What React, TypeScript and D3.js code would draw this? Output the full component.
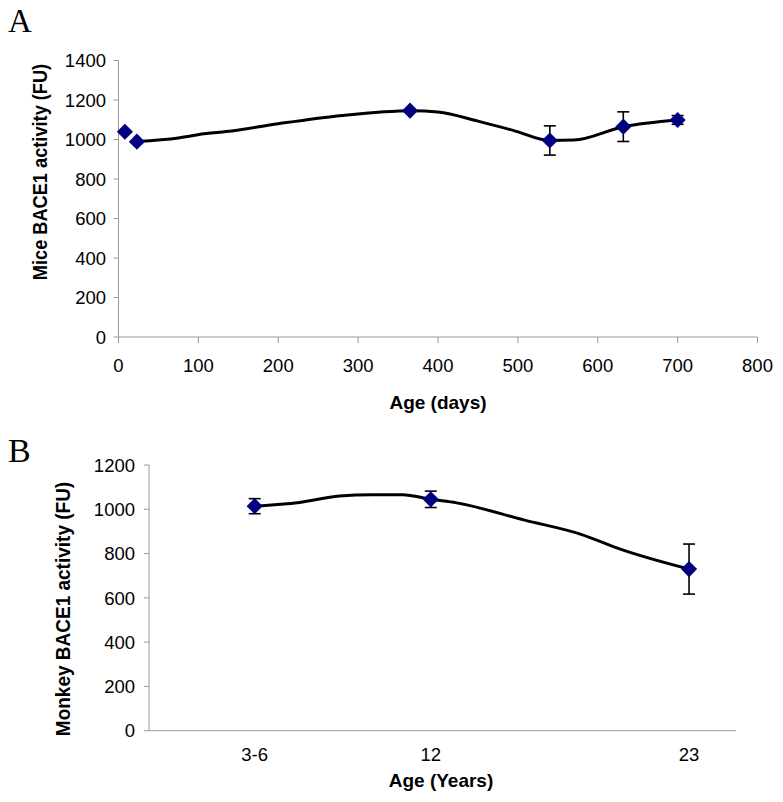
import React from "react";
import * as d3 from "d3";

// ---------- Panel A: mice ----------
const miceAgeDays = [8, 23, 365, 540, 632, 700];
const miceActivity = [1039, 989, 1146, 995, 1065, 1099];
const miceError = [0, 0, 0, 74, 75, 22];
const miceCurveAge = [23, 75, 110, 135, 200, 280, 367, 400, 450, 495, 540, 570, 632, 700];
const miceCurveValue = [990, 1008, 1030, 1040, 1080, 1122, 1146, 1139, 1093, 1045, 995, 997, 1065, 1099];
const miceXTicks = [0, 100, 200, 300, 400, 500, 600, 700, 800];
const miceYTicks = [0, 200, 400, 600, 800, 1000, 1200, 1400];

// ---------- Panel B: monkey ----------
const monkeyAgeLabels = ["3-6", "12", "23"];
const monkeyAgeYears = [4.5, 12, 23];
const monkeyActivity = [1014, 1045, 730];
const monkeyError = [34, 37, 113];
const monkeyCurveAge = [4.5, 6.4, 8.1, 9.5, 10.8, 12, 13.1, 16, 18.4, 20.1, 23];
const monkeyCurveValue = [1014, 1031, 1060, 1066, 1066, 1045, 1029, 951, 887, 819, 730];
const monkeyYTicks = [0, 200, 400, 600, 800, 1000, 1200];

const AXIS = "#9a9a9a";
const MARK = "#000080";
const SANS = "'Liberation Sans', Arial, sans-serif";
const SERIF = "'Liberation Serif', 'Times New Roman', serif";

const diamond = d3.symbol(d3.symbolSquare, 130)();

function Markers({ xs, ys, errs, x, y }: any) {
  return (
    <g>
      {xs.map((v: number, i: number) =>
        errs[i] > 0 ? (
          <g key={"e" + i} stroke="#000" strokeWidth={1.6}>
            <line x1={x(v)} x2={x(v)} y1={y(ys[i] + errs[i])} y2={y(ys[i] - errs[i])} />
            <line x1={x(v) - 6} x2={x(v) + 6} y1={y(ys[i] + errs[i])} y2={y(ys[i] + errs[i])} />
            <line x1={x(v) - 6} x2={x(v) + 6} y1={y(ys[i] - errs[i])} y2={y(ys[i] - errs[i])} />
          </g>
        ) : null
      )}
      {xs.map((v: number, i: number) => (
        <path
          key={"m" + i}
          d={diamond as string}
          fill={MARK}
          transform={`translate(${x(v)},${y(ys[i])}) rotate(45)`}
        />
      ))}
    </g>
  );
}

export default function App() {
  // Panel A scales
  const xA = d3.scaleLinear().domain([0, 800]).range([118.5, 757.5]);
  const yA = d3.scaleLinear().domain([0, 1400]).range([337, 60.5]);
  // Panel B scales
  const xB = d3.scaleLinear().domain([0, 25]).range([149, 736]);
  const yB = d3.scaleLinear().domain([0, 1200]).range([730.7, 465]);

  const lineA = d3
    .line<number>()
    .x((d, i) => xA(miceCurveAge[i]))
    .y((d) => yA(d))
    .curve(d3.curveMonotoneX);
  const lineB = d3
    .line<number>()
    .x((d, i) => xB(monkeyCurveAge[i]))
    .y((d) => yB(d))
    .curve(d3.curveMonotoneX);

  return (
    <svg
      width={783}
      height={802}
      style={{ position: "absolute", left: 0, top: 0, background: "#fff" }}
    >
      <rect width={783} height={802} fill="#fff" />

      {/* ---------- Panel A ---------- */}
      <text x={8} y={32} fontFamily={SERIF} fontSize={33}>A</text>

      {/* axes */}
      <line x1={xA(0)} x2={xA(0)} y1={yA(1400)} y2={yA(0)} stroke={AXIS} strokeWidth={1} />
      <line x1={xA(0)} x2={xA(800)} y1={yA(0)} y2={yA(0)} stroke={AXIS} strokeWidth={1} />
      {miceYTicks.map((t) => (
        <g key={"ya" + t}>
          <line x1={xA(0) - 5} x2={xA(0)} y1={yA(t)} y2={yA(t)} stroke={AXIS} />
          <text x={106} y={yA(t)} dy="0.36em" textAnchor="end" fontFamily={SANS} fontSize={18.5}>
            {t}
          </text>
        </g>
      ))}
      {miceXTicks.map((t) => (
        <g key={"xa" + t}>
          <line x1={xA(t)} x2={xA(t)} y1={yA(0)} y2={yA(0) + 6} stroke={AXIS} />
          <text x={xA(t)} y={372} textAnchor="middle" fontFamily={SANS} fontSize={18.5}>
            {t}
          </text>
        </g>
      ))}
      <text x={438} y={409} textAnchor="middle" fontFamily={SANS} fontWeight="bold" fontSize={19}>
        Age (days)
      </text>
      <text
        transform={`translate(47,172) scale(1.1,1) rotate(-90)`}
        textAnchor="middle"
        fontFamily={SANS}
        fontWeight="bold"
        fontSize={18.2}
      >
        Mice BACE1 activity (FU)
      </text>

      <path d={lineA(miceCurveValue) as string} fill="none" stroke="#000" strokeWidth={3} />
      <Markers xs={miceAgeDays} ys={miceActivity} errs={miceError} x={xA} y={yA} />

      {/* ---------- Panel B ---------- */}
      <text x={8} y={462} fontFamily={SERIF} fontSize={34}>B</text>

      <line x1={xB(0)} x2={xB(0)} y1={yB(1200)} y2={yB(0)} stroke={AXIS} strokeWidth={1} />
      <line x1={xB(0)} x2={xB(25)} y1={yB(0)} y2={yB(0)} stroke={AXIS} strokeWidth={1} />
      {monkeyYTicks.map((t) => (
        <g key={"yb" + t}>
          <line x1={xB(0) - 5} x2={xB(0)} y1={yB(t)} y2={yB(t)} stroke={AXIS} />
          <text x={135} y={yB(t)} dy="0.36em" textAnchor="end" fontFamily={SANS} fontSize={18.5}>
            {t}
          </text>
        </g>
      ))}
      {monkeyAgeLabels.map((lab, i) => (
        <text
          key={"xb" + lab}
          x={xB(monkeyAgeYears[i])}
          y={761}
          textAnchor="middle"
          fontFamily={SANS}
          fontSize={18.5}
        >
          {lab}
        </text>
      ))}
      <text x={441} y={787} textAnchor="middle" fontFamily={SANS} fontWeight="bold" fontSize={19}>
        Age (Years)
      </text>
      <text
        transform={`translate(70,609) scale(1.1,1) rotate(-90)`}
        textAnchor="middle"
        fontFamily={SANS}
        fontWeight="bold"
        fontSize={19}
      >
        Monkey BACE1 activity (FU)
      </text>

      <path d={lineB(monkeyCurveValue) as string} fill="none" stroke="#000" strokeWidth={3} />
      <Markers xs={monkeyAgeYears} ys={monkeyActivity} errs={monkeyError} x={xB} y={yB} />
    </svg>
  );
}
